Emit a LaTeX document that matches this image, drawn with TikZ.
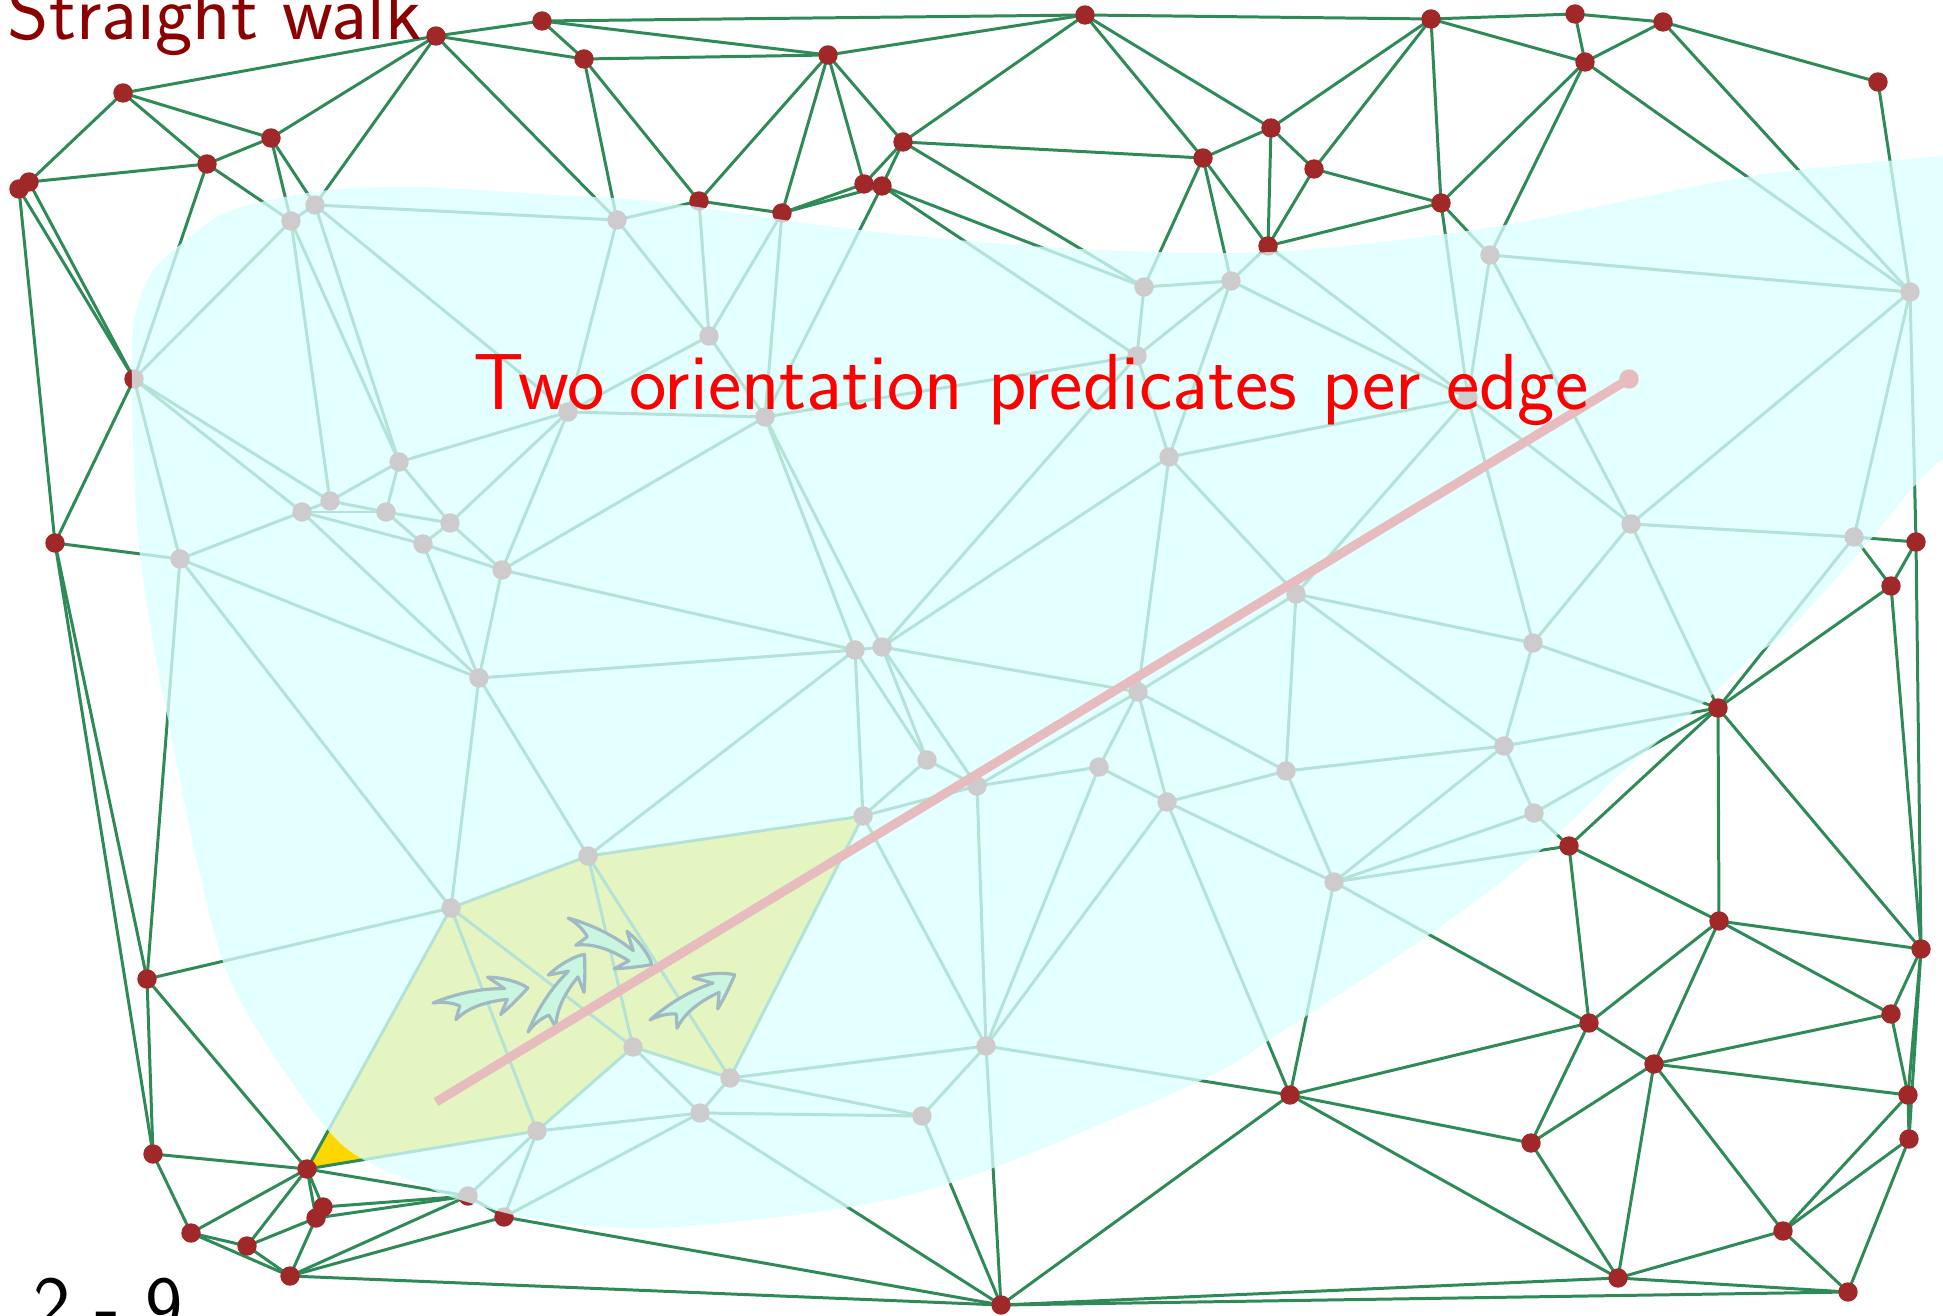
\documentclass[tikz,border=0pt]{standalone}
\definecolor{edgegreen}{RGB}{46,139,87}
\definecolor{dotred}{RGB}{160,40,40}
\definecolor{blobc}{RGB}{220,255,255}
\definecolor{walk}{RGB}{255,215,0}
\definecolor{pinkline}{RGB}{230,188,190}
\definecolor{arrowfill}{RGB}{200,246,224}
\definecolor{arrowdraw}{RGB}{160,185,195}
\definecolor{titlered}{RGB}{139,0,0}
\tikzset{
  swoosh/.pic={\filldraw[arrowdraw,fill=arrowfill,line width=0.9pt,line join=round]
    (0,0) .. controls (25,-6) and (50,-7) .. (73,-3) -- (58,-17)
    .. controls (75,-14) and (90,-6) .. (96,0)
    .. controls (86,8) and (75,16) .. (65,22) -- (74,8)
    .. controls (55,7) and (35,9) .. (20,20) -- (26,7)
    .. controls (18,2) and (8,0) .. (0,0) -- cycle;}
}
\begin{document}
\begin{tikzpicture}[x=0.01cm,y=-0.01cm,
  edge/.style={edgegreen,line width=0.85pt},
  bigtext/.style={anchor=base west,inner sep=0pt,font=\sffamily\fontsize{22.6}{27}\selectfont}]
\useasboundingbox (0,0) rectangle (1943,1316);
\clip (0,0) rectangle (1943,1316);
% vertices
\foreach \n/\x/\y in {a1/436/36,a2/542/21,a3/584/59,a4/123/93,a5/271/138,a6/207/164,a7/29/182,a8/19/189,
 a9/828/55,a10/1085/15,a11/903/142,a12/864/184,a13/882/186,a14/699/201,a15/782/213,a16/1203/158,
 a17/1271/128,a18/1268/246,a19/1431/19,a20/1575/14,a21/1663/22,a22/1585/62,a23/1878/82,a24/1314/169,a25/1441/203,
 L1/134/379,L2/55/543,L3/147/979,L4/153/1154,
 B1/307/1169,B2/323/1207,B3/316/1218,B4/468/1196,B5/504/1217,B6/191/1233,B7/247/1246,B8/290/1276,B9/1001/1305,
 R1/1916/542,R2/1891/586,R3/1718/708,R4/1569/846,R5/1719/921,R6/1921/949,R7/1589/1023,R8/1891/1014,
 R9/1654/1064,R10/1290/1095,R11/1908/1095,R12/1909/1139,R13/1531/1143,R14/1783/1231,R15/1618/1278,R16/1848/1292,
 g1/291/221,g2/315/205,g3/617/220,g4/399/462,g5/330/501,g6/302/512,g7/386/512,g8/450/523,g9/423/544,
 g10/502/570,g11/568/412,g12/180/559,g13/1144/287,g14/1231/281,g15/1137/356,g16/709/336,g17/765/417,
 g18/1169/457,g19/855/650,g20/882/647,g21/1490/255,g22/1910/292,g23/1468/398,g24/1631/524,g25/1854/537,
 g26/1296/594,g27/1533/643,g28/479/678,g29/588/856,g30/451/908,g31/633/1047,g32/537/1131,g33/1138/692,
 g34/927/760,g35/977/786,g36/1099/767,g37/1167/802,g38/1286/771,g39/863/816,g40/986/1046,g41/730/1078,
 g42/700/1113,g43/922/1116,g44/1504/746,g45/1534/813,g46/1334/882}
 {\coordinate (\n) at (\x,\y);}
% walked triangles
\fill[walk] (B1) -- (g30) -- (g29) -- (g39) -- (g41) -- (g31) -- (g32) -- cycle;
% edges
\foreach \a/\b in {a1/a2,a1/a3,a1/a4,a1/a5,a1/g2,a1/g3,a2/a3,a2/a9,a2/a10,a3/a9,a3/a14,a3/g3,
 a4/a5,a4/a6,a4/a7,a5/a6,a5/g1,a5/g2,a6/a7,a6/g1,a6/L1,a7/a8,a7/L1,a8/L1,a8/L2,
 a9/a10,a9/a11,a9/a12,a9/a14,a9/a15,a10/a11,a10/a16,a10/a17,a10/a19,
 a11/a12,a11/a13,a11/a16,a11/g13,a12/a13,a12/a15,a13/a15,a13/g17,a13/g13,a13/g15,
 a14/a15,a14/g3,a14/g16,a15/g16,a15/g17,a16/a17,a16/a18,a16/g13,a16/g14,
 a17/a18,a17/a19,a17/a24,a18/a24,a18/a25,a18/g14,a18/g23,
 a19/a20,a19/a22,a19/a24,a19/a25,a20/a21,a20/a22,a21/a22,a21/a23,a21/g22,
 a22/a25,a22/g21,a22/g22,a23/g22,a24/a25,a25/g21,a25/g23,
 L1/L2,L1/g1,L1/g5,L1/g6,L1/g12,L2/g12,L2/L3,L2/L4,L3/L4,L3/B1,L3/g12,L3/g30,L4/B1,L4/B6,
 B1/B2,B1/B3,B1/B4,B1/B6,B1/B7,B1/g30,B1/g32,B2/B3,B2/B4,B3/B4,B3/B7,B3/B8,
 B4/B5,B4/B8,B4/g32,B5/B8,B5/B9,B5/g32,B5/g42,B6/B7,B6/B8,B7/B8,B8/B9,
 B9/g40,B9/g42,B9/g43,B9/R10,B9/R15,B9/R16,
 g1/g2,g1/g4,g1/g5,g2/g3,g2/g4,g2/g11,g3/g11,g3/g16,g4/g5,g4/g7,g4/g8,g4/g11,
 g5/g6,g5/g7,g6/g7,g6/g9,g6/g12,g6/g28,g7/g8,g7/g9,g8/g9,g8/g10,g8/g11,g9/g10,g9/g28,
 g10/g11,g10/g17,g10/g19,g10/g28,g11/g16,g11/g17,g12/g28,g12/g30,g13/g14,g13/g15,
 g14/g15,g14/g18,g14/g23,g15/g17,g15/g18,g15/g20,g16/g17,g17/g19,g17/g20,
 g18/g20,g18/g23,g18/g26,g18/g33,g19/g20,g19/g28,g19/g29,g19/g34,g19/g39,
 g20/g33,g20/g34,g20/g35,g21/g22,g21/g23,g21/g24,g22/g24,g22/g25,g22/R1,
 g23/g24,g23/g26,g23/g27,g24/g25,g24/g27,g24/R3,g25/R1,g25/R2,g25/R3,
 g26/g27,g26/g33,g26/g38,g26/g44,g27/g44,g27/R3,g28/g29,g28/g30,
 g29/g30,g29/g31,g29/g39,g29/g41,g30/g31,g30/g32,g31/g32,g31/g41,g31/g42,g32/g42,
 g33/g35,g33/g36,g33/g37,g33/g38,g34/g35,g34/g39,g35/g36,g35/g39,g35/g40,
 g36/g37,g36/g40,g37/g38,g37/g40,g37/g46,g37/R10,g38/g44,g38/g46,
 g39/g40,g39/g41,g40/g41,g40/g43,g40/R10,g41/g42,g41/g43,g42/g43,
 g44/g45,g44/g46,g44/R3,g45/g46,g45/R3,g45/R4,g46/R4,g46/R7,g46/R10,
 R1/R2,R1/R6,R2/R3,R2/R6,R3/R4,R3/R5,R3/R6,R4/R5,R4/R7,
 R5/R6,R5/R7,R5/R8,R5/R9,R6/R8,R6/R11,R6/R12,R7/R9,R7/R10,R7/R13,
 R8/R9,R8/R11,R9/R11,R9/R13,R9/R14,R9/R15,R10/R13,R10/R15,
 R11/R12,R11/R14,R12/R14,R12/R16,R13/R15,R14/R15,R14/R16,R15/R16}
 {\draw[edge] (\a) -- (\b);}
% points
\foreach \p in {a1,a2,a3,a4,a5,a6,a7,a8,a9,a10,a11,a12,a13,a14,a15,a16,a17,a18,a19,a20,a21,a22,a23,a24,a25,
 L1,L2,L3,L4,B1,B2,B3,B4,B5,B6,B7,B8,B9,R1,R2,R3,R4,R5,R6,R7,R8,R9,R10,R11,R12,R13,R14,R15,R16,
 g1,g2,g3,g4,g5,g6,g7,g8,g9,g10,g11,g12,g13,g14,g15,g16,g17,g18,g19,g20,g21,g22,g23,g24,g25,
 g26,g27,g28,g29,g30,g31,g32,g33,g34,g35,g36,g37,g38,g39,g40,g41,g42,g43,g44,g45,g46}
 {\fill[dotred] (\p) circle[radius=0.097cm];}
% translucent region
\fill[blobc,opacity=0.76] plot[smooth cycle,tension=0.5] coordinates {
 (133,330) (150,275) (181,244) (220,215) (261,202) (330,190) (421,187) (540,194) (660,202)
 (850,229) (1061,248) (1271,252) (1493,227) (1746,177) (1943,156) (2050,150) (2050,420)
 (1943,459) (1864,547) (1788,631) (1754,656) (1704,702) (1620,774) (1536,854) (1430,934)
 (1283,1031) (1200,1081) (977,1174) (850,1207) (660,1228) (540,1220) (467,1202) (427,1187)
 (337,1140) (236,993) (198,866) (168,719) (156,660) (139,547) (133,440)};
% arrows
\coordinate (A1) at (433,1003);
\coordinate (A2) at (528,1032);
\coordinate (A3) at (568,918);
\coordinate (A4) at (650,1020);
\pic[rotate=9] (arw1) at (A1) {swoosh};
\pic[rotate=54] (arw2) at (A2) {swoosh};
\pic[rotate=-29] (arw3) at (A3) {swoosh};
\pic[rotate=28] (arw4) at (A4) {swoosh};
% query segment
\coordinate (S) at (436,1102);
\coordinate (P) at (1629,379);
\draw[pinkline,line width=2.6pt] (S) -- (P);
\fill[pinkline] (P) circle[radius=0.097cm];
% texts
\node[bigtext,text=titlered] (title) at (7,40) {Straight walk};
\node[bigtext,text=red] (label) at (473,410) {Two orientation predicates per edge};
\node[bigtext,text=black] (num) at (33,1331) {2 - 9};
\end{tikzpicture}
\end{document}
